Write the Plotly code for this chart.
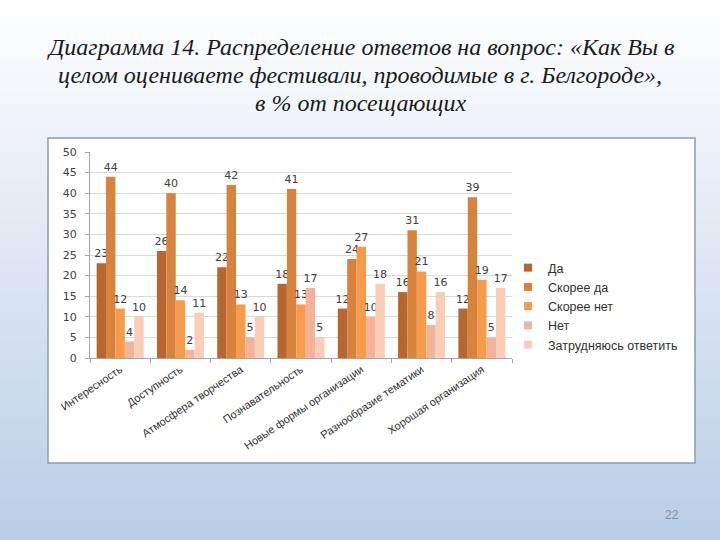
import plotly.graph_objects as go

categories = ["Интересность", "Доступность", "Атмосфера творчества", "Познавательность",
              "Новые формы организации", "Разнообразие тематики", "Хорошая организация"]
series_names = ["Да", "Скорее да", "Скорее нет", "Нет", "Затрудняюсь ответить"]
da = [23, 26, 22, 18, 12, 16, 12]
skoree_da = [44, 40, 42, 41, 24, 31, 39]
skoree_net = [12, 14, 13, 13, 27, 21, 19]
net = [4, 2, 5, 17, 10, 8, 5]
zatr = [10, 11, 10, 5, 18, 16, 17]
y_ticks = [0, 5, 10, 15, 20, 25, 30, 35, 40, 45, 50]
title_lines = ["Диаграмма 14. Распределение ответов на вопрос: «Как Вы в",
               "целом оцениваете фестивали, проводимые в г. Белгороде»,",
               "в % от посещающих"]

series_values = [da, skoree_da, skoree_net, net, zatr]
colors = ["#B8662F", "#D8833D", "#F59B4B", "#F2B39A", "#F9CDB6"]

W, H = 720, 540
fig = go.Figure()
for name, vals, col in zip(series_names, series_values, colors):
    fig.add_trace(go.Bar(
        name=name, x=categories, y=vals, marker=dict(color=col, line=dict(width=0)),
        text=vals, textposition="outside", cliponaxis=False, constraintext="none",
        textfont=dict(family="DejaVu Sans", size=11, color="#404040"),
        showlegend=False, legendgroup=name,
    ))
# legend entries with small square swatches
for name, col in zip(series_names, colors):
    fig.add_trace(go.Scatter(
        x=[None], y=[None], mode="markers", name=name, legendgroup=name,
        marker=dict(symbol="square", size=8, color=col), showlegend=True,
    ))

# background gradient
shapes = []
n = 108
def lerp(a, b, t):
    return int(round(a + (b - a) * t))
top = (255, 255, 255)
bot = (185, 205, 230)
for i in range(n):
    t = (i + 0.5) / n
    c = tuple(lerp(top[k], bot[k], t) for k in range(3))
    shapes.append(dict(type="rect", xref="paper", yref="paper", x0=0, x1=1,
                       y0=max(0, 1 - (i + 1) / n - 0.001), y1=1 - i / n,
                       fillcolor="rgb(%d,%d,%d)" % c, line=dict(width=0), layer="below"))
# white chart box
shapes.append(dict(type="rect", xref="paper", yref="paper",
                   x0=48 / W, x1=695 / W, y0=1 - 463 / H, y1=1 - 138 / H,
                   fillcolor="white", line=dict(color="#8B9DB0", width=1.5), layer="below"))

annotations = []
for i, line in enumerate(title_lines):
    annotations.append(dict(
        text=line, xref="paper", yref="paper", x=0.5, y=1 - (47 + 28 * i) / H,
        xanchor="center", yanchor="middle", showarrow=False,
        font=dict(family="Liberation Serif", size=24, color="#1A1A1A", style="italic")))
annotations.append(dict(text="22", xref="paper", yref="paper", x=672 / W, y=1 - 515 / H,
                        xanchor="center", yanchor="middle", showarrow=False,
                        font=dict(family="Liberation Sans", size=12, color="#8A8F99")))

fig.update_layout(
    width=W, height=H,
    margin=dict(l=0, r=0, t=0, b=0, pad=0, autoexpand=False),
    paper_bgcolor="white", plot_bgcolor="rgba(0,0,0,0)",
    shapes=shapes,
    barmode="group", bargap=0.22, bargroupgap=0,
    xaxis=dict(domain=[90 / W, 512 / W], tickangle=-34, automargin=False,
               tickfont=dict(family="Liberation Sans", size=11, color="#303030"),
               showline=True, linecolor="#A6A6A6", linewidth=1,
               ticks="outside", tickson="boundaries", ticklen=4, tickcolor="#A6A6A6"),
    yaxis=dict(domain=[1 - 358 / H, 1 - 152 / H], range=[0, 50], tickvals=y_ticks,
               automargin=False, ticklabelstandoff=6,
               tickfont=dict(family="DejaVu Sans", size=11, color="#404040"),
               showgrid=True, gridcolor="#D9D9D9", gridwidth=1,
               showline=True, linecolor="#A6A6A6", linewidth=1,
               ticks="outside", ticklen=4, tickcolor="#A6A6A6", zeroline=False),
    legend=dict(x=508 / W, y=1 - 253 / H, xanchor="left", yanchor="top",
                font=dict(family="Liberation Sans", size=12.5, color="#303030"),
                bgcolor="rgba(0,0,0,0)", itemwidth=30, tracegroupgap=0),
    showlegend=True,
    annotations=annotations,
)

fig.write_html("out.html", config={"displayModeBar": False},
               post_script="document.body.style.margin='0';document.body.style.overflow='hidden';")
